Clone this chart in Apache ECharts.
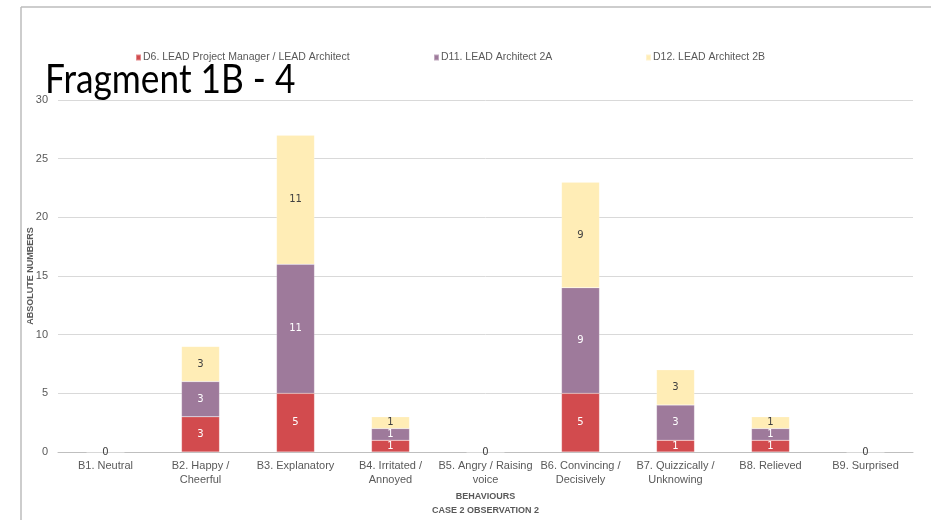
<!DOCTYPE html>
<html>
<head>
<meta charset="utf-8">
<script src="https://cdn.jsdelivr.net/npm/echarts@6/dist/echarts.min.js"></script>
<style>
  html, body { margin: 0; padding: 0; background: #fff; }
  #chart { width: 931px; height: 520px; }
</style>
</head>
<body>
<div id="chart"></div>
<script>
// categories along the x axis
const categories = [
  'B1. Neutral',
  'B2. Happy /\nCheerful',
  'B3. Explanatory',
  'B4. Irritated /\nAnnoyed',
  'B5. Angry / Raising\nvoice',
  'B6. Convincing /\nDecisively',
  'B7. Quizzically /\nUnknowing',
  'B8. Relieved',
  'B9. Surprised'
]

const seriesNames = [
  'D6. LEAD Project Manager / LEAD Architect',
  'D11. LEAD Architect 2A',
  'D12. LEAD Architect 2B'
]

const d6 = [0, 3, 5, 1, 0, 5, 1, 1, 0]
const d11 = [0, 3, 11, 1, 0, 9, 3, 1, 0]
const d12 = [0, 3, 11, 1, 0, 9, 3, 1, 0]

const yTicks = [0, 5, 10, 15, 20, 25, 30]

const colors = ['#d24b4e', '#9e7a9b', '#ffedb6']
const labelColors = ['#ffffff', '#ffffff', '#404040']
const font = 'Liberation Sans, Arial, sans-serif'

const chart = echarts.init(document.getElementById('chart'))

function legendAt(name, left) {
  return {
    data: [name],
    left: left,
    top: 47,
    itemWidth: 5,
    itemHeight: 6,
    itemGap: 4,
    icon: 'rect',
    textStyle: { color: '#595959', fontSize: 10.5, fontFamily: font, padding: [0, 0, 0, -3] }
  }
}

const option = {
  animation: false,
  color: colors,
  legend: [
    legendAt(seriesNames[0], 130),
    legendAt(seriesNames[1], 428),
    legendAt(seriesNames[2], 640)
  ],
  graphic: [
    { type: 'line', shape: { x1: 21, y1: 7, x2: 931, y2: 7 }, style: { stroke: '#bdbdbd', lineWidth: 1.5 } },
    { type: 'line', shape: { x1: 21, y1: 7, x2: 21, y2: 520 }, style: { stroke: '#bdbdbd', lineWidth: 1.5 } },
    // slide title, squeezed a little to match the narrow original face
    {
      type: 'text',
      x: 45,
      y: 59,
      scaleX: 0.86,
      z: 100,
      style: { text: 'Fragment 1B - 4', font: '41px Lato, sans-serif', fill: '#000' }
    }
  ],
  grid: { left: 58, right: 18, top: 100, bottom: 68, outerBoundsMode: 'none' },
  xAxis: {
    type: 'category',
    data: categories,
    axisTick: { show: false },
    axisLine: { lineStyle: { color: '#bfbfbf' } },
    axisLabel: { color: '#595959', fontSize: 11, fontFamily: font, interval: 0, lineHeight: 14, margin: 7 },
    name: 'BEHAVIOURS\nCASE 2 OBSERVATION 2',
    nameLocation: 'middle',
    nameGap: 38,
    nameMoveOverlap: false,
    nameTextStyle: { color: '#595959', fontSize: 9, fontWeight: 'bold', fontFamily: font, lineHeight: 14 }
  },
  yAxis: {
    type: 'value',
    min: yTicks[0],
    max: yTicks[yTicks.length - 1],
    interval: 5,
    axisLine: { show: false },
    axisTick: { show: false },
    splitLine: { lineStyle: { color: '#d9d9d9' } },
    axisLabel: { color: '#595959', fontSize: 11, fontFamily: font, margin: 10 },
    name: 'ABSOLUTE NUMBERS',
    nameLocation: 'middle',
    nameRotate: 90,
    nameGap: 23,
    nameMoveOverlap: false,
    nameTextStyle: { color: '#595959', fontSize: 9, fontWeight: 'bold', fontFamily: font }
  },
  series: [d6, d11, d12].map((data, i) => ({
    name: seriesNames[i],
    type: 'bar',
    stack: 'total',
    data: data,
    barWidth: 38,
    itemStyle: { color: colors[i], borderColor: 'rgba(255,255,255,0.35)', borderWidth: 0.5 },
    label: {
      show: true,
      position: 'inside',
      color: labelColors[i],
      fontSize: 10,
      fontFamily: 'DejaVu Sans, sans-serif',
      // zero-valued stacks show a single dark "0" on the baseline
      formatter: (p) => (p.value === 0 && i < 2 ? '' : String(p.value))
    }
  }))
}

chart.setOption(option)
window.addEventListener('resize', () => chart.resize())
</script>
</body>
</html>
